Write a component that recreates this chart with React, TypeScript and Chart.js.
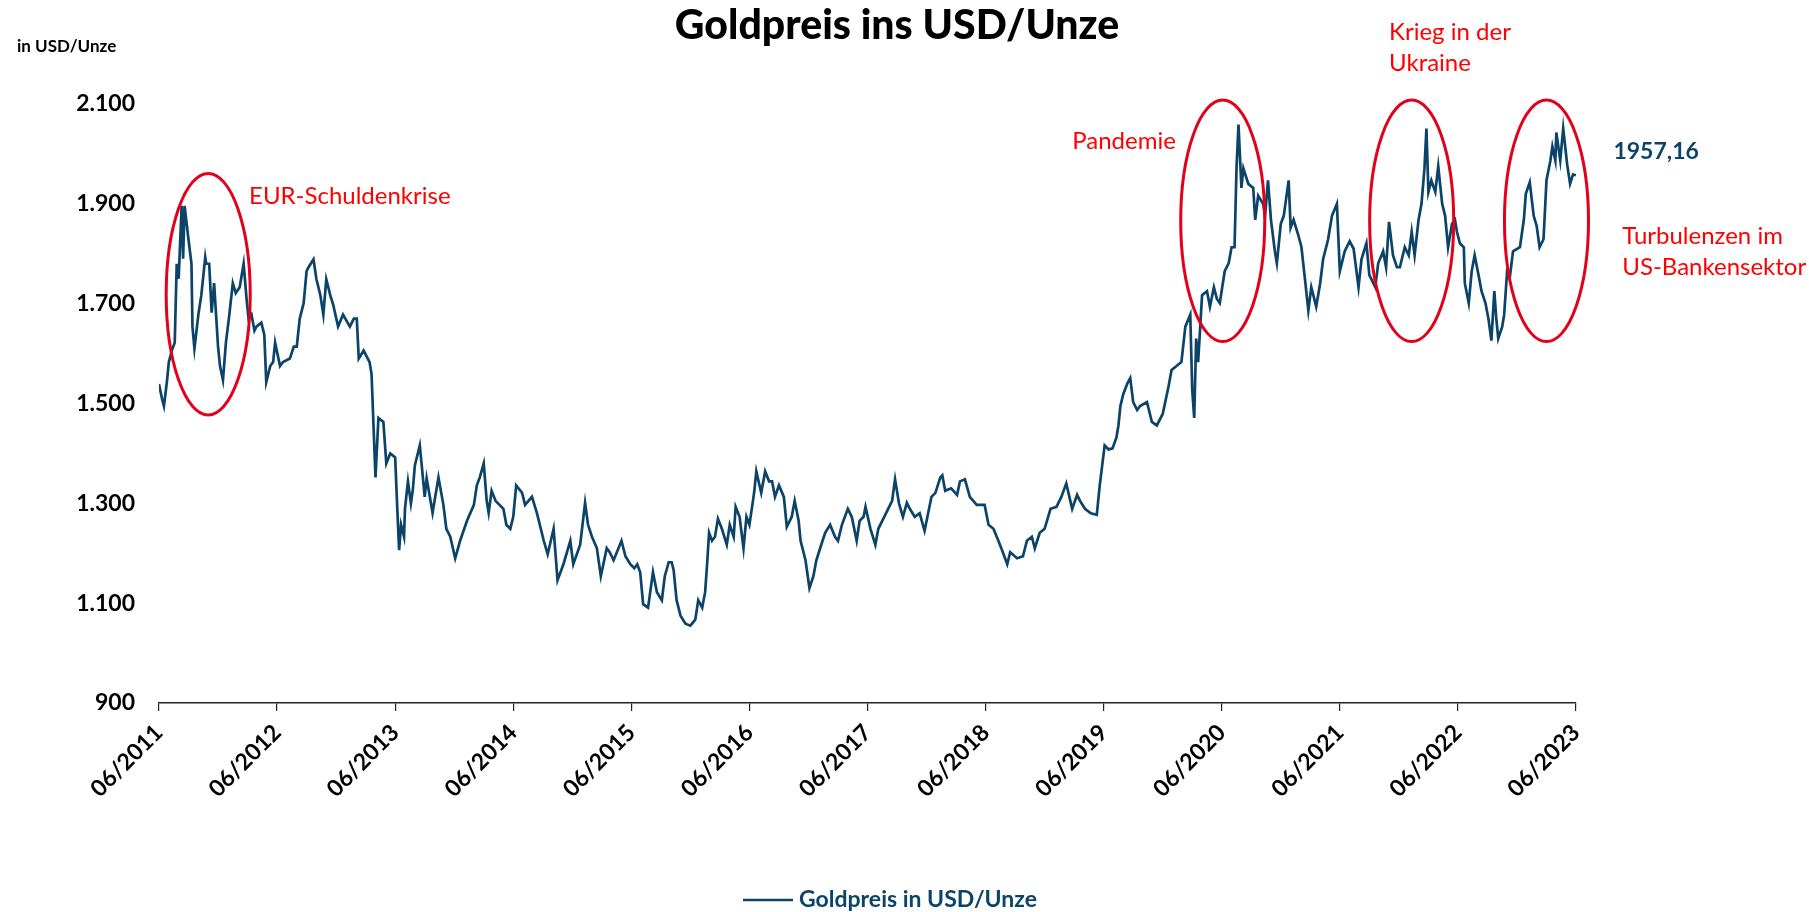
import React, { useEffect, useRef } from "react";
import { Chart, registerables } from "chart.js";

Chart.register(...registerables);

// Months since 06/2011 (x position of each observation)
const monthOffsets: number[] = [
  0, 0.3, 0.5, 0.8, 1.0, 1.3, 1.6, 1.8, 2.0, 2.3, 2.45, 2.6, 3.0, 3.3, 3.4, 3.6, 4.0, 4.3, 4.7, 4.8,
  5.1, 5.35, 5.6, 6.0, 6.2, 6.5, 6.8, 7.1, 7.5, 7.8, 8.2, 8.6, 8.9, 9.1, 9.4, 9.7, 9.9, 10.4, 10.7, 10.9,
  11.3, 11.6, 11.8, 12.3, 12.6, 13.3, 13.7, 14.0, 14.3, 14.7, 15.0, 15.2, 15.7, 16.0, 16.4, 16.7, 17.0, 17.4, 17.7, 18.2,
  18.7, 19.4, 19.8, 20.1, 20.3, 20.8, 21.4, 21.6, 22.0, 22.3, 22.8, 23.1, 23.5, 24.0, 24.2, 24.4, 24.6, 24.9, 25.0, 25.3,
  25.6, 25.8, 26.0, 26.5, 26.7, 27.0, 27.2, 27.8, 28.4, 28.9, 29.2, 29.6, 30.1, 30.6, 31.3, 32.0, 32.3, 32.6, 33.0, 33.3,
  33.5, 33.8, 34.2, 35.0, 35.3, 35.7, 36.0, 36.3, 36.9, 37.2, 37.9, 38.4, 39.1, 39.5, 40.1, 40.5, 41.1, 41.8, 42.1, 42.8,
  43.3, 43.6, 44.0, 44.5, 44.9, 45.5, 45.8, 46.2, 47.0, 47.4, 47.9, 48.3, 48.6, 48.9, 49.2, 49.7, 50.2, 50.6, 51.1, 51.4,
  51.8, 52.1, 52.3, 52.6, 53.0, 53.5, 54.0, 54.5, 54.8, 55.2, 55.5, 55.7, 55.9, 56.2, 56.5, 56.8, 57.2, 57.7, 58.0, 58.4,
  58.6, 59.0, 59.4, 59.7, 60.0, 60.3, 60.5, 60.7, 61.2, 61.6, 62.0, 62.3, 62.6, 63.0, 63.5, 63.8, 64.3, 64.6, 65.0, 65.2,
  65.7, 66.1, 66.5, 66.8, 67.3, 67.7, 68.2, 68.7, 69.0, 69.4, 70.0, 70.4, 70.9, 71.2, 71.6, 71.8, 72.3, 72.8, 73.1, 73.6,
  74.1, 74.5, 74.8, 75.2, 75.6, 76.0, 76.3, 76.8, 77.3, 77.8, 78.5, 78.9, 79.4, 79.6, 79.9, 80.5, 81.1, 81.4, 81.9, 82.4,
  83.1, 83.9, 84.3, 84.8, 85.3, 85.6, 86.2, 86.5, 87.2, 87.8, 88.2, 88.7, 89.0, 89.5, 90.0, 90.6, 91.2, 91.7, 92.2, 92.8,
  93.3, 93.6, 94.1, 94.7, 95.3, 95.6, 96.1, 96.5, 96.9, 97.3, 97.5, 97.7, 98.0, 98.4, 98.7, 99.0, 99.4, 99.7, 100.4, 100.9,
  101.4, 102.0, 102.6, 102.9, 103.4, 103.9, 104.3, 104.8, 105.0, 105.2, 105.4, 105.6, 106.0, 106.5, 106.8, 107.2, 107.5, 107.8, 108.3, 108.7,
  109.0, 109.3, 109.5, 109.7, 110.0, 110.2, 110.7, 111.2, 111.4, 111.7, 112.2, 112.4, 112.7, 113.0, 113.4, 113.6, 114.0, 114.3, 114.8, 115.0,
  115.3, 115.8, 116.1, 116.5, 116.8, 117.1, 117.6, 118.0, 118.3, 118.8, 119.2, 119.7, 120.0, 120.5, 121.0, 121.4, 121.9, 122.2, 122.7, 123.0,
  123.6, 123.9, 124.4, 124.7, 125.0, 125.4, 125.8, 126.1, 126.6, 127.0, 127.3, 127.6, 128.0, 128.3, 128.6, 128.8, 129.0, 129.3, 129.7, 130.0,
  130.4, 130.7, 131.0, 131.4, 131.7, 131.9, 132.2, 132.6, 132.7, 133.1, 133.4, 133.7, 134.1, 134.4, 134.8, 135.1, 135.4, 135.7, 135.9, 136.1,
  136.5, 136.7, 137.0, 137.3, 137.6, 138.3, 138.7, 138.9, 139.3, 139.7, 140.0, 140.3, 140.7, 141.0, 141.4, 141.6, 141.9, 142.0, 142.4, 142.7,
  143.1, 143.4, 143.7, 144.0,
];

// Gold price in USD per ounce
const goldPrices: number[] = [
  1539, 1510, 1495, 1543, 1583, 1606, 1622, 1780, 1750, 1896, 1790, 1896, 1828, 1780, 1654, 1610, 1678, 1717, 1793, 1780,
  1780, 1682, 1741, 1614, 1575, 1547, 1622, 1670, 1741, 1721, 1733, 1780, 1709, 1670, 1678, 1646, 1654, 1662, 1638, 1543,
  1575, 1583, 1622, 1575, 1583, 1590, 1614, 1614, 1670, 1701, 1765, 1773, 1789, 1749, 1717, 1678, 1749, 1717, 1698, 1654,
  1678, 1654, 1670, 1670, 1590, 1606, 1583, 1559, 1352, 1471, 1463, 1380, 1400, 1392, 1297, 1206, 1257, 1233, 1290, 1344,
  1300, 1328, 1376, 1416, 1376, 1313, 1350, 1281, 1352, 1297, 1249, 1233, 1190, 1225, 1265, 1297, 1336, 1352, 1380, 1305,
  1281, 1325, 1305, 1289, 1257, 1249, 1273, 1336, 1321, 1297, 1313, 1281, 1225, 1198, 1249, 1146, 1178, 1225, 1178, 1217,
  1301, 1257, 1233, 1210, 1154, 1210, 1202, 1186, 1225, 1194, 1178, 1170, 1178, 1162, 1098, 1091, 1162, 1122, 1106, 1154,
  1182, 1182, 1166, 1106, 1075, 1059, 1055, 1067, 1106, 1091, 1122, 1178, 1241, 1225, 1233, 1269, 1249, 1217, 1257, 1233,
  1293, 1273, 1210, 1273, 1257, 1297, 1325, 1364, 1321, 1364, 1344, 1344, 1313, 1336, 1313, 1253, 1273, 1305, 1265, 1225,
  1186, 1130, 1154, 1186, 1217, 1241, 1257, 1233, 1225, 1257, 1289, 1273, 1225, 1265, 1273, 1293, 1249, 1217, 1249, 1269,
  1289, 1305, 1348, 1300, 1273, 1301, 1289, 1273, 1280, 1245, 1313, 1321, 1352, 1356, 1325, 1330, 1317, 1344, 1348, 1313,
  1297, 1297, 1257, 1249, 1225, 1210, 1178, 1202, 1190, 1194, 1225, 1233, 1210, 1241, 1249, 1289, 1293, 1313, 1340, 1289,
  1317, 1305, 1289, 1280, 1277, 1336, 1416, 1408, 1410, 1432, 1456, 1495, 1519, 1540, 1551, 1503, 1487, 1495, 1503, 1463,
  1456, 1479, 1535, 1567, 1575, 1583, 1654, 1678, 1527, 1471, 1630, 1583, 1717, 1725, 1694, 1733, 1710, 1701, 1765, 1781,
  1813, 1813, 1971, 2059, 1932, 1971, 1940, 1932, 1868, 1916, 1900, 1876, 1947, 1868, 1805, 1781, 1860, 1876, 1947, 1852,
  1868, 1836, 1813, 1741, 1686, 1733, 1694, 1741, 1789, 1828, 1876, 1900, 1765, 1805, 1825, 1810, 1733, 1789, 1821, 1757,
  1733, 1781, 1805, 1773, 1864, 1797, 1773, 1773, 1813, 1797, 1844, 1797, 1868, 1900, 1971, 2051, 1924, 1947, 1924, 1975,
  1900, 1876, 1813, 1860, 1868, 1844, 1821, 1813, 1741, 1701, 1765, 1797, 1757, 1725, 1701, 1670, 1626, 1725, 1670, 1630,
  1654, 1678, 1765, 1757, 1805, 1813, 1868, 1920, 1943, 1876, 1856, 1813, 1829, 1947, 1987, 2015, 1987, 2043, 1987, 2051,
  1979, 1940, 1959, 1957.16,
];

const xTickLabels: string[] = [
  "06/2011", "06/2012", "06/2013", "06/2014", "06/2015", "06/2016", "06/2017",
  "06/2018", "06/2019", "06/2020", "06/2021", "06/2022", "06/2023",
];
const yTickValues: number[] = [900, 1100, 1300, 1500, 1700, 1900, 2100];

// Highlighted periods: centre month, centre price
const ellipseCentersMonth: number[] = [5.0, 108.1, 127.3, 141.0];
const ellipseCentersPrice: number[] = [1719, 1866, 1866, 1866];
const ellipseHalfWidthMonths = 4.27;
const ellipseHalfHeightPrice = 242;

const eventLabels: string[][] = [
  ["EUR-Schuldenkrise"],
  ["Pandemie"],
  ["Krieg in der", "Ukraine"],
  ["Turbulenzen im", "US-Bankensektor"],
];
const eventLabelMonth: number[] = [9.15, 92.8, 125.0, 148.7];
const eventLabelPrice: number[] = [1915, 2026, 2244, 1835];

const lastValueLabel = "1957,16";
const lastValueMonth = 147.8;
const lastValuePrice = 2004;

const TITLE = "Goldpreis ins USD/Unze";
const UNIT = "in USD/Unze";
const SERIES_LABEL = "Goldpreis in USD/Unze";

const LINE_COLOR = "#0B4468";
const RED = "#FF0000";
const ELLIPSE_RED = "#E2001A";
const FONT = "Lato, 'Open Sans', sans-serif";

function formatThousands(v: number): string {
  const s = String(Math.round(v));
  return s.replace(/\B(?=(\d{3})+(?!\d))/g, ".");
}

const annotationPlugin = {
  id: "goldAnnotations",
  afterDatasetsDraw(chart: any) {
    const ctx = chart.ctx as CanvasRenderingContext2D;
    const xs = chart.scales.x;
    const ys = chart.scales.y;
    ctx.save();
    ctx.strokeStyle = ELLIPSE_RED;
    ctx.lineWidth = 3;
    ellipseCentersMonth.forEach((m, i) => {
      const cx = xs.getPixelForValue(m);
      const cy = ys.getPixelForValue(ellipseCentersPrice[i]);
      const rx = Math.abs(xs.getPixelForValue(m + ellipseHalfWidthMonths) - cx);
      const ry = Math.abs(ys.getPixelForValue(ellipseCentersPrice[i] + ellipseHalfHeightPrice) - cy);
      ctx.beginPath();
      ctx.ellipse(cx, cy, rx, ry, 0, 0, Math.PI * 2);
      ctx.stroke();
    });
    ctx.restore();
  },
  afterDraw(chart: any) {
    const ctx = chart.ctx as CanvasRenderingContext2D;
    const xs = chart.scales.x;
    const ys = chart.scales.y;
    ctx.save();
    // Title
    ctx.fillStyle = "#000";
    ctx.font = `900 41px ${FONT}`;
    ctx.textAlign = "center";
    ctx.textBaseline = "middle";
    ctx.fillText(TITLE, 897, 26);
    // Unit
    ctx.font = `bold 17px ${FONT}`;
    ctx.textAlign = "left";
    ctx.fillText(UNIT, 17, 47);

    // Event labels
    ctx.fillStyle = RED;
    ctx.font = `24px ${FONT}`;
    eventLabels.forEach((lines, i) => {
      const x = xs.getPixelForValue(eventLabelMonth[i]);
      const y = ys.getPixelForValue(eventLabelPrice[i]);
      lines.forEach((line, j) => {
        ctx.fillText(line, x, y + j * 31);
      });
    });

    // Last value
    ctx.fillStyle = LINE_COLOR;
    ctx.font = `bold 23px ${FONT}`;
    ctx.fillText(lastValueLabel, xs.getPixelForValue(lastValueMonth), ys.getPixelForValue(lastValuePrice));

    // Legend
    const ds = chart.data.datasets[0];
    const ly = 900;
    ctx.strokeStyle = ds.borderColor;
    ctx.lineWidth = 2.5;
    ctx.beginPath();
    ctx.moveTo(743, ly);
    ctx.lineTo(793, ly);
    ctx.stroke();
    ctx.fillStyle = ds.borderColor;
    ctx.font = `bold 23px ${FONT}`;
    ctx.fillText(ds.label, 799, ly);
    ctx.restore();
  },
};

export default function App() {
  const canvasRef = useRef<HTMLCanvasElement | null>(null);

  useEffect(() => {
    const canvas = canvasRef.current;
    if (!canvas) return;
    const chart = new Chart(canvas, {
      type: "line",
      data: {
        datasets: [
          {
            label: SERIES_LABEL,
            data: monthOffsets.map((m, i) => ({ x: m, y: goldPrices[i] })),
            borderColor: LINE_COLOR,
            backgroundColor: LINE_COLOR,
            borderWidth: 2.7,
            pointRadius: 0,
            tension: 0,
            fill: false,
          },
        ],
      },
      options: {
        responsive: false,
        animation: false,
        devicePixelRatio: 1,
        layout: { padding: { top: 104, right: 233, left: 0, bottom: 0 } },
        plugins: {
          legend: { display: false },
          title: { display: false },
          tooltip: { enabled: false },
        },
        scales: {
          x: {
            type: "linear",
            min: 0,
            max: (xTickLabels.length - 1) * 12,
            afterFit: (s: any) => {
              s.height = 209;
            },
            afterBuildTicks: (s: any) => {
              s.ticks = xTickLabels.map((_, i) => ({ value: i * 12 }));
            },
            ticks: {
              autoSkip: false,
              maxRotation: 45,
              minRotation: 45,
              padding: 8,
              color: "#000",
              font: { family: FONT, weight: "bold", size: 23 },
              callback: (_v: any, i: number) => xTickLabels[i],
            },
            grid: {
              display: true,
              drawOnChartArea: false,
              drawTicks: true,
              tickLength: 8,
              color: "#222",
              lineWidth: 1.2,
            },
            border: { display: true, color: "#222", width: 1.5 },
          },
          y: {
            type: "linear",
            min: yTickValues[0],
            max: yTickValues[yTickValues.length - 1],
            afterFit: (s: any) => {
              s.width = 159;
            },
            afterBuildTicks: (s: any) => {
              s.ticks = yTickValues.map((v) => ({ value: v }));
            },
            ticks: {
              padding: 24,
              color: "#000",
              font: { family: FONT, weight: "bold", size: 23 },
              callback: (v: any) => formatThousands(Number(v)),
            },
            grid: { display: false, drawTicks: false },
            border: { display: false },
          },
        },
      } as any,
      plugins: [annotationPlugin],
    });
    return () => chart.destroy();
  }, []);

  return (
    <div style={{ position: "absolute", left: 0, top: 0, width: 1809, height: 912, background: "#fff" }}>
      <canvas ref={canvasRef} width={1809} height={912} style={{ display: "block" }} />
    </div>
  );
}
